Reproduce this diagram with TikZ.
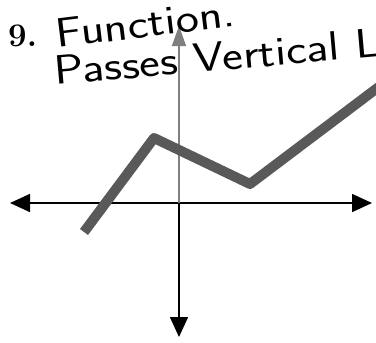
\documentclass[tikz,border=0pt]{standalone}
\usetikzlibrary{arrows.meta}
\begin{document}
\begin{tikzpicture}[x=1pt,y=-1pt,
  axis/.style={line width=1.6pt,draw=black,-{Triangle[length=20pt,width=18pt]}},
  hand/.style={font=\sffamily\fontsize{41}{42}\selectfont,anchor=base west,inner sep=0pt},
  graphline/.style={draw=black!65,line width=10pt,line join=round,line cap=butt}]
\clip (0,0) rectangle (376,343);
\useasboundingbox (0,0) rectangle (376,343);
% axes
\coordinate (o) at (179,203);
\coordinate (xl) at (10,203);
\coordinate (xr) at (372,203);
\coordinate (yt) at (179,26);
\coordinate (yb) at (179,337);
\draw[axis] (o) -- (xl);
\draw[axis] (o) -- (xr);
\draw[axis,draw=black!50,{Triangle[length=20pt,width=14pt]}-] (yt) -- (o);
\draw[axis] (o) -- (yb);
% graph
\coordinate (p1) at (84,232);
\coordinate (p2) at (154,138);
\coordinate (p3) at (250,184);
\coordinate (p4) at (380,86);
\draw[graphline] (p1) -- (p2) -- (p3) -- (p4);
% text
\node[font=\bfseries\fontsize{33}{34}\selectfont,anchor=base west,inner sep=0pt] (num) at (8,46) {9.};
\node[hand,rotate=7] (t1) at (57,48) {\scalebox{1.2}[1]{Function.}};
\node[hand,rotate=5] (t2) at (55,85) {\scalebox{1.2}[1]{Passes Vertical Line}};
\end{tikzpicture}
\end{document}
